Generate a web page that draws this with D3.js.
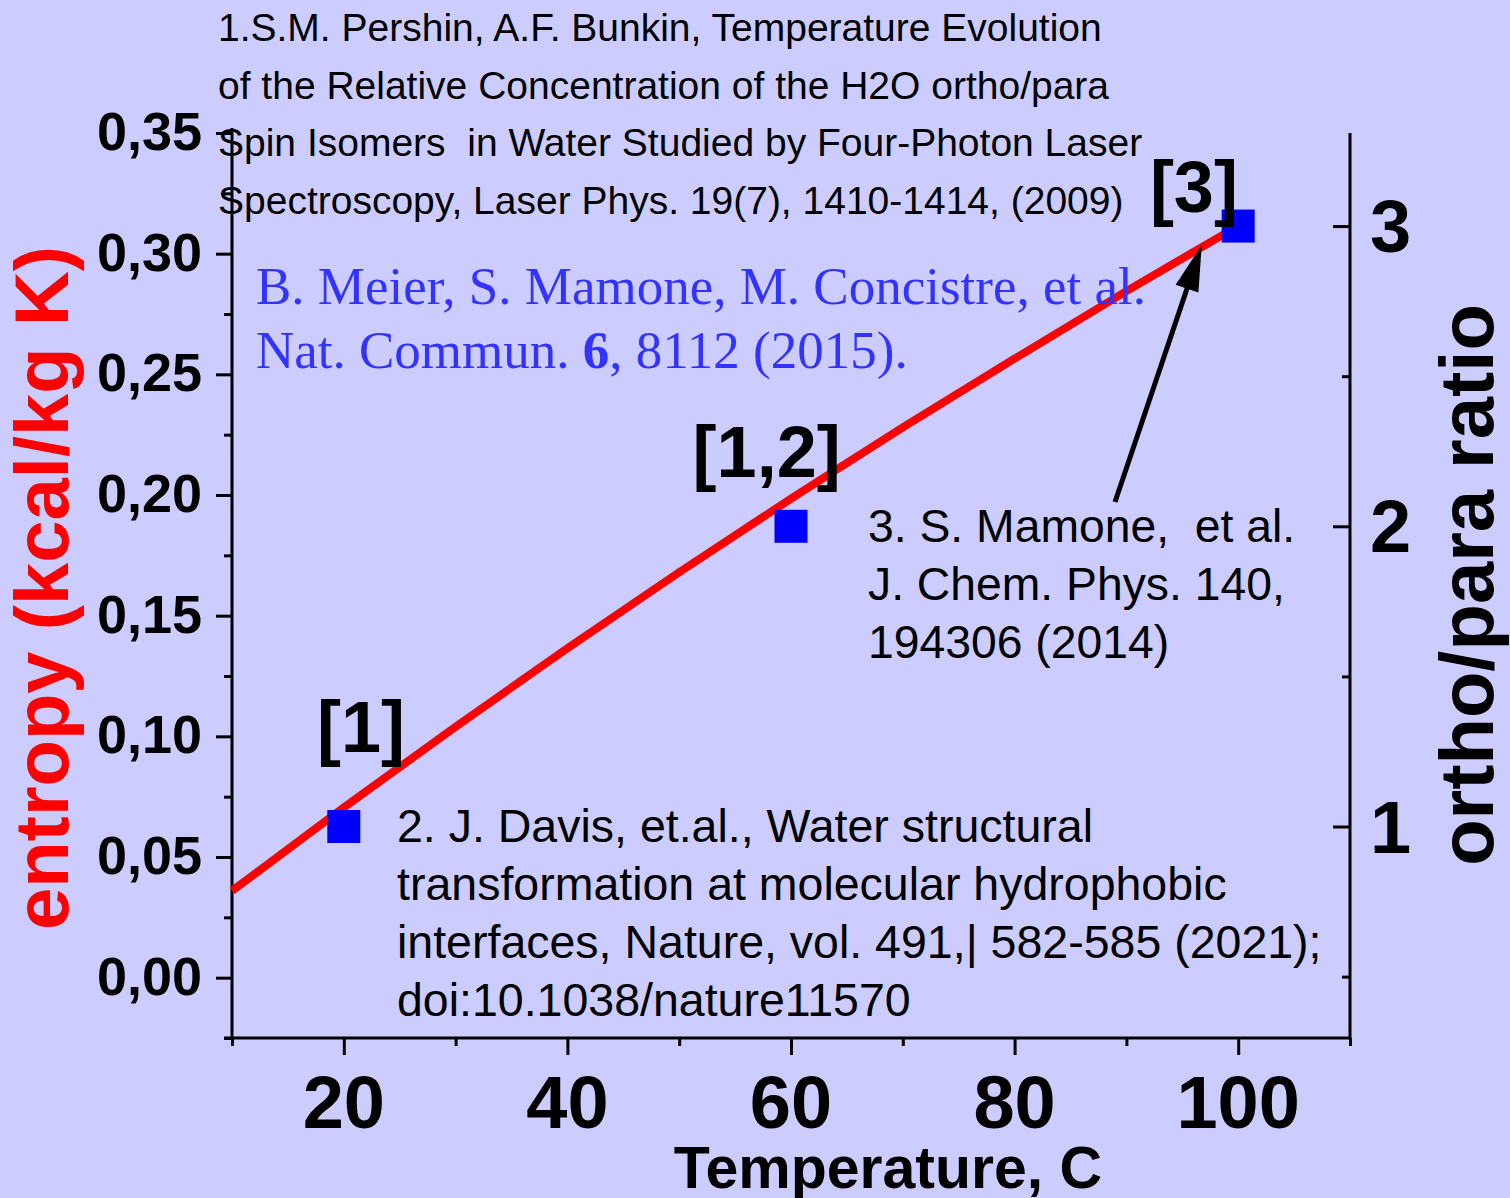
<!DOCTYPE html>
<html>
<head>
<meta charset="utf-8">
<script src="https://cdn.jsdelivr.net/npm/d3@7"></script>
<style>
  html, body { margin: 0; padding: 0; background: #ccccff; }
  svg { display: block; }
</style>
</head>
<body>
<svg id="chart" width="1510" height="1198"></svg>
<script>
// entropy of water vs temperature (red curve, left axis)
const temps = [10, 20, 30, 40, 50, 60, 70, 80, 90, 100];
const entropy = [0.036, 0.0705, 0.104, 0.1365, 0.168, 0.1985, 0.228, 0.2565, 0.2845, 0.3115];

// ortho/para ratio points (blue squares, right axis)
const ratioTemps = [20, 60, 100];
const ratioValues = [1.0, 2.0, 3.0];

// point labels
const refLabels = ["[1]", "[1,2]", "[3]"];

// tick values
const xTicks = [20, 40, 60, 80, 100];
const yLeftTicks = [0, 0.05, 0.10, 0.15, 0.20, 0.25, 0.30, 0.35];
const yRightTicks = [1, 2, 3];

const topRef = [
  "1.S.M. Pershin, A.F. Bunkin, Temperature Evolution",
  "of the Relative Concentration of the H2O ortho/para",
  "Spin Isomers  in Water Studied by Four-Photon Laser",
  "Spectroscopy, Laser Phys. 19(7), 1410-1414, (2009)"
];
const mamoneRef = [
  "3. S. Mamone,  et al.",
  "J. Chem. Phys. 140,",
  "194306 (2014)"
];
const davisRef = [
  "2. J. Davis, et.al., Water structural",
  "transformation at molecular hydrophobic",
  "interfaces, Nature, vol. 491,| 582-585 (2021);",
  "doi:10.1038/nature11570"
];

function drawChart() {
    const svg = d3.select("#chart");
    const bold = "Liberation Sans, Arial, sans-serif";

    const left = 232, right = 1350, top = 133, bottom = 1038;

    const x = d3.scaleLinear().domain([10, 110]).range([left, right]);
    const yL = d3.scaleLinear().domain([-0.025, 0.35]).range([bottom, top]);
    const yR = d3.scaleLinear().domain([0.2956, 3.31]).range([bottom, top]);

    // bottom axis
    const xAxis = svg.append("g").attr("transform", `translate(0,${bottom})`);
    xAxis.call(d3.axisBottom(x).tickValues(d3.range(10, 111, 10)).tickSize(8).tickFormat(""));
    xAxis.call(g => g.selectAll(".tick line").filter(d => xTicks.includes(d)).attr("y2", 17));
    xAxis.selectAll(".tick text").remove();
    xAxis.select(".domain").attr("d", `M${left - 8},0H${right}`);

    xTicks.forEach(t => {
        svg.append("text")
            .attr("x", x(t)).attr("y", 1128)
            .attr("text-anchor", "middle")
            .style("font", `bold 74px ${bold}`)
            .text(t);
    });

    // left axis
    const yAxisL = svg.append("g").attr("transform", `translate(${left},0)`);
    yAxisL.call(d3.axisLeft(yL).tickValues(d3.range(-0.025, 0.351, 0.025)).tickSize(8).tickFormat(""));
    yAxisL.selectAll(".tick line").filter(d => Math.abs(Math.round(d * 40) % 2) === 0).attr("x2", -16);
    yAxisL.select(".domain").attr("d", `M0,${top - 5}V${bottom}`);

    yLeftTicks.forEach(v => {
        svg.append("text")
            .attr("x", 202).attr("y", yL(v) + 17)
            .attr("text-anchor", "end")
            .style("font", `bold 54px ${bold}`)
            .text(v.toFixed(2).replace(".", ","));
    });

    // right axis (ticks inward)
    const yAxisR = svg.append("g").attr("transform", `translate(${right},0)`);
    yAxisR.call(d3.axisRight(yR).tickValues([0.5, 1, 1.5, 2, 2.5, 3]).tickSize(-8).tickFormat(""));
    yAxisR.selectAll(".tick line").filter(d => yRightTicks.includes(d)).attr("x2", -17);
    yAxisR.select(".domain").attr("d", `M0,${top}V${bottom}`);

    yRightTicks.forEach(v => {
        svg.append("text")
            .attr("x", 1370).attr("y", yR(v) + 26)
            .style("font", `bold 74px ${bold}`)
            .text(v);
    });

    svg.selectAll(".domain, .tick line").attr("stroke", "#000").attr("stroke-width", 3);

    // axis titles
    svg.append("text")
        .attr("x", 888).attr("y", 1188)
        .attr("text-anchor", "middle")
        .style("font", `bold 59px ${bold}`)
        .text("Temperature, C");

    svg.append("text")
        .attr("transform", "translate(68,588) rotate(-90)")
        .attr("text-anchor", "middle")
        .attr("fill", "#ff0000")
        .style("font", `bold 76px ${bold}`)
        .text("entropy (kcal/kg K)");

    svg.append("text")
        .attr("transform", "translate(1493,585) rotate(-90)")
        .attr("text-anchor", "middle")
        .style("font", `bold 76px ${bold}`)
        .text("ortho/para ratio");

    // red entropy curve
    const line = d3.line().x(d => x(d[0])).y(d => yL(d[1])).curve(d3.curveMonotoneX);
    svg.append("path")
        .datum(temps.map((t, i) => [t, entropy[i]]))
        .attr("d", line)
        .attr("fill", "none")
        .attr("stroke", "#ff0000")
        .attr("stroke-width", 8);

    // blue squares
    const sq = 33;
    svg.selectAll("rect.pt")
        .data(ratioTemps.map((t, i) => [t, ratioValues[i]]))
        .enter()
        .append("rect")
        .attr("class", "pt")
        .attr("x", d => x(d[0]) - sq / 2)
        .attr("y", d => yR(d[1]) - sq / 2)
        .attr("width", sq).attr("height", sq)
        .attr("fill", "#0000ff");

    // bracket labels
    const labelPos = [[17.6, 752], [51.2, 477], [92.1, 212]];
    refLabels.forEach((l, i) => {
        svg.append("text")
            .attr("x", x(labelPos[i][0])).attr("y", labelPos[i][1])
            .style("font", `bold 72px ${bold}`)
            .text(l);
    });

    // arrow from the Mamone note to the 100 C point
    const ax1 = x(88.98), ay1 = yL(0.1971), ax2 = x(96.74), ay2 = yL(0.3036);
    const len = Math.hypot(ax2 - ax1, ay2 - ay1);
    const ux = (ax2 - ax1) / len, uy = (ay2 - ay1) / len;
    const headL = 46, headW = 12;
    const bx = ax2 - ux * headL, by = ay2 - uy * headL;
    svg.append("line")
        .attr("x1", ax1).attr("y1", ay1)
        .attr("x2", bx + ux * 4).attr("y2", by + uy * 4)
        .attr("stroke", "#000").attr("stroke-width", 5);
    svg.append("path")
        .attr("d", `M${ax2},${ay2}L${bx - uy * headW},${by + ux * headW}L${bx + uy * headW},${by - ux * headW}Z`)
        .attr("fill", "#000");

    // reference text blocks
    const block = (lines, x0, y0, dy, size) => {
        lines.forEach((s, i) => {
            svg.append("text")
                .attr("x", x0).attr("y", y0 + i * dy)
                .style("font", `${size}px Liberation Sans, Arial, sans-serif`)
                .style("white-space", "pre")
                .attr("xml:space", "preserve")
                .text(s);
        });
    };
    block(topRef, 218, 41, 57.7, 39);
    block(mamoneRef, 868, 542, 58, 46.3);
    block(davisRef, 397, 842, 58, 46.5);

    // blue citation (serif)
    const serif = "Liberation Serif, Times New Roman, serif";
    svg.append("text")
        .attr("x", 256).attr("y", 304)
        .attr("fill", "#3333ff")
        .style("font", `53px ${serif}`)
        .text("B. Meier, S. Mamone, M. Concistre, et al.");
    const t2 = svg.append("text")
        .attr("x", 256).attr("y", 368)
        .attr("fill", "#3333ff")
        .style("font", `53px ${serif}`)
        .attr("xml:space", "preserve");
    t2.append("tspan").text("Nat. Commun. ");
    t2.append("tspan").style("font-weight", "bold").text("6");
    t2.append("tspan").text(", 8112 (2015).");
}

document.addEventListener("DOMContentLoaded", drawChart);
</script>
</body>
</html>
